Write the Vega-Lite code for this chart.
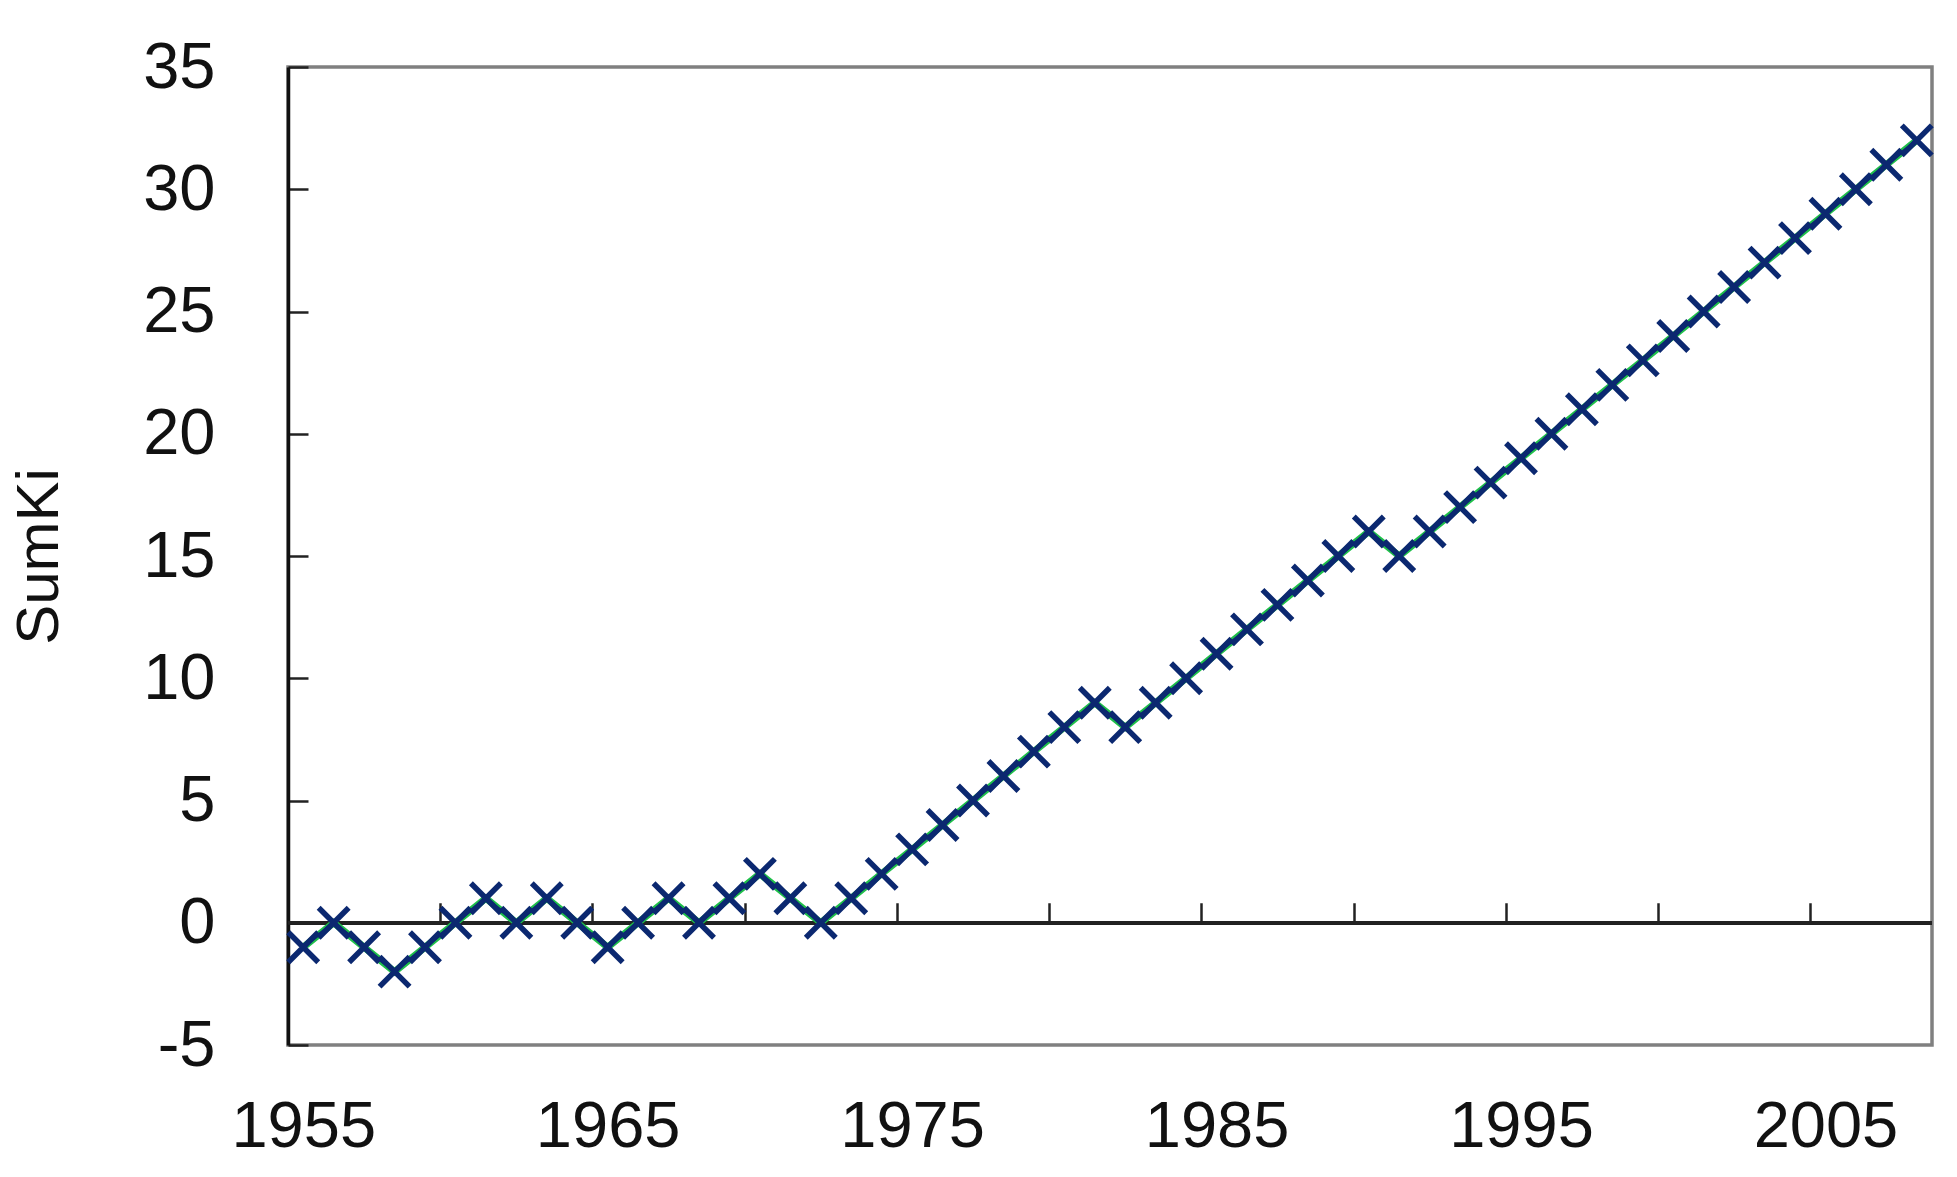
{
  "$schema": "https://vega.github.io/schema/vega-lite/v6.json",
  "width": 1644,
  "height": 978,
  "autosize": {"type": "none"},
  "padding": {"left": 288, "top": 67, "right": 25, "bottom": 132},
  "background": "white",
  "config": {
    "view": {"stroke": "#808080", "strokeWidth": 3.5},
    "font": "Liberation Sans"
  },
  "data": {
    "values": [
      {"year": 1955, "SumKi": -1}, {"year": 1956, "SumKi": 0}, {"year": 1957, "SumKi": -1},
      {"year": 1958, "SumKi": -2}, {"year": 1959, "SumKi": -1}, {"year": 1960, "SumKi": 0},
      {"year": 1961, "SumKi": 1}, {"year": 1962, "SumKi": 0}, {"year": 1963, "SumKi": 1},
      {"year": 1964, "SumKi": 0}, {"year": 1965, "SumKi": -1}, {"year": 1966, "SumKi": 0},
      {"year": 1967, "SumKi": 1}, {"year": 1968, "SumKi": 0}, {"year": 1969, "SumKi": 1},
      {"year": 1970, "SumKi": 2}, {"year": 1971, "SumKi": 1}, {"year": 1972, "SumKi": 0},
      {"year": 1973, "SumKi": 1}, {"year": 1974, "SumKi": 2}, {"year": 1975, "SumKi": 3},
      {"year": 1976, "SumKi": 4}, {"year": 1977, "SumKi": 5}, {"year": 1978, "SumKi": 6},
      {"year": 1979, "SumKi": 7}, {"year": 1980, "SumKi": 8}, {"year": 1981, "SumKi": 9},
      {"year": 1982, "SumKi": 8}, {"year": 1983, "SumKi": 9}, {"year": 1984, "SumKi": 10},
      {"year": 1985, "SumKi": 11}, {"year": 1986, "SumKi": 12}, {"year": 1987, "SumKi": 13},
      {"year": 1988, "SumKi": 14}, {"year": 1989, "SumKi": 15}, {"year": 1990, "SumKi": 16},
      {"year": 1991, "SumKi": 15}, {"year": 1992, "SumKi": 16}, {"year": 1993, "SumKi": 17},
      {"year": 1994, "SumKi": 18}, {"year": 1995, "SumKi": 19}, {"year": 1996, "SumKi": 20},
      {"year": 1997, "SumKi": 21}, {"year": 1998, "SumKi": 22}, {"year": 1999, "SumKi": 23},
      {"year": 2000, "SumKi": 24}, {"year": 2001, "SumKi": 25}, {"year": 2002, "SumKi": 26},
      {"year": 2003, "SumKi": 27}, {"year": 2004, "SumKi": 28}, {"year": 2005, "SumKi": 29},
      {"year": 2006, "SumKi": 30}, {"year": 2007, "SumKi": 31}, {"year": 2008, "SumKi": 32}
    ]
  },
  "layer": [
    {
      "mark": {"type": "rule", "color": "#222222", "strokeWidth": 3},
      "encoding": {
        "y": {"datum": 0, "type": "quantitative", "axis": null,
              "scale": {"domain": [-5, 35], "nice": false, "zero": false}}
      }
    },
    {
      "mark": {"type": "line", "color": "#1fbf4a", "strokeWidth": 7},
      "encoding": {
        "x": {"field": "year", "type": "quantitative",
              "scale": {"domain": [1954.5, 2008.5], "nice": false, "zero": false},
              "axis": {"orient": "bottom", "offset": -122.25, "values": [1959.5, 1964.5, 1969.5, 1974.5, 1979.5, 1984.5, 1989.5, 1994.5, 1999.5, 2004.5],
                       "tickSize": -20, "tickWidth": 2.5, "tickColor": "#222222", "labels": false, "domain": false, "grid": false, "title": null}},
        "y": {"field": "SumKi", "type": "quantitative", "axis": null,
              "scale": {"domain": [-5, 35], "nice": false, "zero": false}}
      }
    },
    {
      "mark": {"type": "line", "color": "#0b2870", "strokeWidth": 3},
      "encoding": {
        "x": {"field": "year", "type": "quantitative",
              "axis": {"orient": "bottom", "values": [1955, 1965, 1975, 1985, 1995, 2005], "format": "d",
                       "ticks": false, "domain": false, "grid": false, "title": null,
                       "labelFontSize": 65, "labelColor": "#111111", "labelPadding": 50, "labelFont": "Liberation Sans"}},
        "y": {"field": "SumKi", "type": "quantitative", "title": "SumKi",
              "axis": {"values": [-5, 0, 5, 10, 15, 20, 25, 30, 35], "labelExpr": "'' + datum.value",
                       "tickSize": -20, "tickWidth": 2.5, "tickColor": "#222222",
                       "domain": true, "domainColor": "#111111", "domainWidth": 3.5, "grid": false,
                       "labelFontSize": 65, "labelColor": "#111111", "labelPadding": 93, "labelFont": "Liberation Sans",
                       "titleFontSize": 60, "titleFont": "Liberation Sans", "titleFontWeight": "normal", "titleColor": "#111111", "titlePadding": 72}}
      }
    },
    {
      "mark": {"type": "point", "shape": "M-1,-1L1,1M-1,1L1,-1", "filled": false, "color": "#0b2870", "strokeWidth": 5.5, "size": 900, "opacity": 1},
      "encoding": {
        "x": {"field": "year", "type": "quantitative", "axis": null},
        "y": {"field": "SumKi", "type": "quantitative", "axis": null}
      }
    }
  ],
  "resolve": {"axis": {"x": "independent", "y": "independent"}}
}
